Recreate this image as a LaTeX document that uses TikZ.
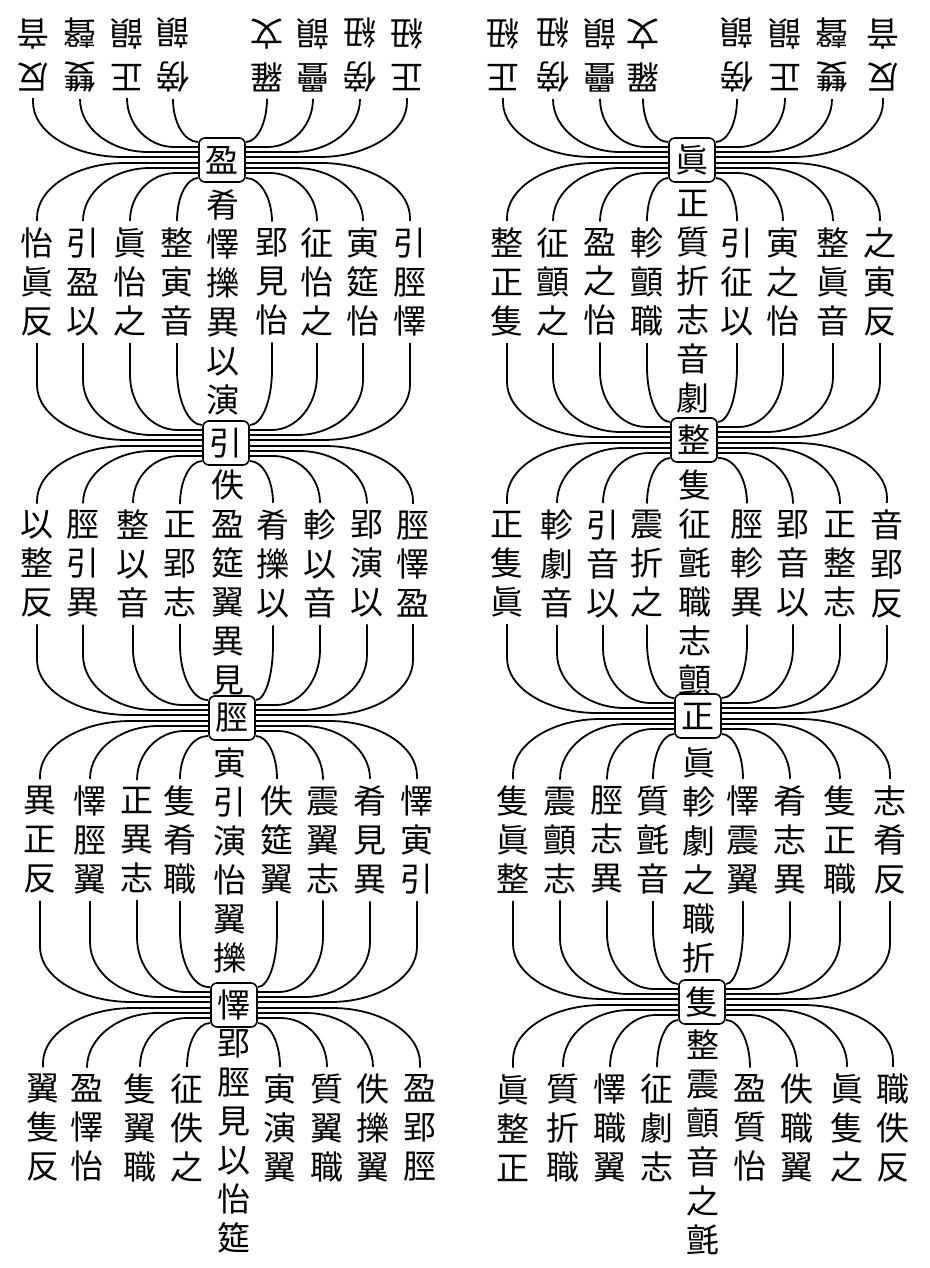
\documentclass[tikz,border=0pt]{standalone}
\usepackage{fontspec}
\newfontfamily\cjk{Noto Sans CJK JP}
\usetikzlibrary{calc}
\newcommand\colnode[4]{\node[col] (#1) at (#2,#3) {#4};
  \coordinate (#1-t) at (#1.north); \coordinate (#1-b) at (#1.south);}
\newcommand\labnode[4]{\node[lab] (#1) at (#2,#3) {#4};
  \coordinate (#1-b) at (#1.north);}
\begin{document}
\begin{tikzpicture}[x=0.5pt,y=-0.5pt,
  col/.style={font=\cjk\fontsize{16.5}{19.5}\selectfont, align=center, inner sep=3.3pt},
  lab/.style={font=\cjk\fontsize{16.5}{22}\selectfont, align=center, inner sep=3.3pt, rotate=180},
  hub/.style={draw, line width=0.8pt, rounded corners=3pt, minimum width=23pt,
    minimum height=22pt, inner sep=0pt, font=\cjk\fontsize{16.5}{19.5}\selectfont},
  conn/.style={line width=0.9pt},
  hubline/.style={to path={let \p1=(\tikztostart), \p2=(\tikztotarget),
    \n1={(\x2-\x1)/abs(\x2-\x1)*min(abs(\x2-\x1),0.45*abs(\x2-\x1)+7.5)},
    \n2={(\y2-\y1)/abs(\y2-\y1)*min(abs(\y2-\y1),27.5)} in
    -- (\x1,\y2-\n2) .. controls (\x1,\y2-0.45*\n2) and (\x1+0.45*\n1,\y2) .. (\x1+\n1,\y2)
    -- (\tikztotarget)}}
]
\useasboundingbox (0,0) rectangle (930,1268);
\fill[white] (0,0) rectangle (930,1268);

% ---------------- hubs ----------------
\node[hub] (LH1) at (222,160) {盈};
\node[hub] (LH2) at (226,443) {引};
\node[hub] (LH3) at (232,718) {脛};
\node[hub] (LH4) at (234,1005) {懌};
\node[hub] (RH1) at (692,160) {眞};
\node[hub] (RH2) at (694,440) {整};
\node[hub] (RH3) at (698,716) {正};
\node[hub] (RH4) at (702,1002) {隻};

% ---------------- central columns ----------------
\node[col] (LC1) at (223,302) {肴\\懌\\擽\\異\\以\\演};
\node[col] (RC1) at (693,302) {正\\質\\折\\志\\音\\劇};
\node[col] (LC2) at (228,582) {佚\\盈\\筵\\翼\\異\\見};
\node[col] (RC2) at (695,582) {隻\\征\\氈\\職\\志\\顫};
\node[col] (LC3) at (230,860) {寅\\引\\演\\怡\\翼\\擽};
\node[col] (RC3) at (699,860) {眞\\軫\\劇\\之\\職\\折};
\node[col] (LC4) at (234,1141) {郢\\脛\\見\\以\\怡\\筵};
\node[col] (RC4) at (703,1142) {整\\震\\顫\\音\\之\\氈};

% ---------------- top labels (inverted) ----------------
\labnode{L0-1}{33}{55}{反\\音}
\labnode{L0-2}{80}{55}{雙\\聲}
\labnode{L0-3}{127}{55}{正\\韻}
\labnode{L0-4}{173}{55}{傍\\韻}
\labnode{L0-5}{267}{55}{羅\\文}
\labnode{L0-6}{313}{55}{疊\\韻}
\labnode{L0-7}{360}{55}{傍\\紐}
\labnode{L0-8}{407}{55}{正\\紐}
\labnode{R0-1}{503}{55}{正\\紐}
\labnode{R0-2}{553}{55}{傍\\紐}
\labnode{R0-3}{600}{55}{疊\\韻}
\labnode{R0-4}{643}{55}{羅\\文}
\labnode{R0-5}{737}{55}{傍\\韻}
\labnode{R0-6}{785}{55}{正\\韻}
\labnode{R0-7}{832}{55}{雙\\聲}
\labnode{R0-8}{883}{55}{反\\音}

% ---------------- section 1 ----------------
\colnode{L1-1}{37}{282}{怡\\眞\\反}
\colnode{L1-2}{83}{282}{引\\盈\\以}
\colnode{L1-3}{130}{282}{眞\\怡\\之}
\colnode{L1-4}{177}{282}{整\\寅\\音}
\colnode{L1-5}{272}{282}{郢\\見\\怡}
\colnode{L1-6}{317}{282}{征\\怡\\之}
\colnode{L1-7}{363}{282}{寅\\筵\\怡}
\colnode{L1-8}{410}{282}{引\\脛\\懌}
\colnode{R1-1}{507}{282}{整\\正\\隻}
\colnode{R1-2}{553}{282}{征\\顫\\之}
\colnode{R1-3}{600}{282}{盈\\之\\怡}
\colnode{R1-4}{647}{282}{軫\\顫\\職}
\colnode{R1-5}{737}{282}{引\\征\\以}
\colnode{R1-6}{783}{282}{寅\\之\\怡}
\colnode{R1-7}{833}{282}{整\\眞\\音}
\colnode{R1-8}{880}{282}{之\\寅\\反}

% ---------------- section 2 ----------------
\colnode{L2-1}{37}{564}{以\\整\\反}
\colnode{L2-2}{83}{564}{脛\\引\\異}
\colnode{L2-3}{133}{564}{整\\以\\音}
\colnode{L2-4}{180}{564}{正\\郢\\志}
\colnode{L2-5}{273}{564}{肴\\擽\\以}
\colnode{L2-6}{320}{564}{軫\\以\\音}
\colnode{L2-7}{367}{564}{郢\\演\\以}
\colnode{L2-8}{413}{564}{脛\\懌\\盈}
\colnode{R2-1}{507}{564}{正\\隻\\眞}
\colnode{R2-2}{557}{564}{軫\\劇\\音}
\colnode{R2-3}{603}{564}{引\\音\\以}
\colnode{R2-4}{647}{564}{震\\折\\之}
\colnode{R2-5}{747}{564}{脛\\軫\\異}
\colnode{R2-6}{793}{564}{郢\\音\\以}
\colnode{R2-7}{840}{564}{正\\整\\志}
\colnode{R2-8}{887}{564}{音\\郢\\反}

% ---------------- section 3 ----------------
\colnode{L3-1}{40}{840}{異\\正\\反}
\colnode{L3-2}{90}{840}{懌\\脛\\翼}
\colnode{L3-3}{137}{840}{正\\異\\志}
\colnode{L3-4}{180}{840}{隻\\肴\\職}
\colnode{L3-5}{277}{840}{佚\\筵\\翼}
\colnode{L3-6}{323}{840}{震\\翼\\志}
\colnode{L3-7}{370}{840}{肴\\見\\異}
\colnode{L3-8}{417}{840}{懌\\寅\\引}
\colnode{R3-1}{513}{840}{隻\\眞\\整}
\colnode{R3-2}{560}{840}{震\\顫\\志}
\colnode{R3-3}{607}{840}{脛\\志\\異}
\colnode{R3-4}{653}{840}{質\\氈\\音}
\colnode{R3-5}{743}{840}{懌\\震\\翼}
\colnode{R3-6}{790}{840}{肴\\志\\異}
\colnode{R3-7}{840}{840}{隻\\正\\職}
\colnode{R3-8}{890}{840}{志\\肴\\反}

% ---------------- section 4 ----------------
\colnode{L4-1}{43}{1128}{翼\\隻\\反}
\colnode{L4-2}{87}{1128}{盈\\懌\\怡}
\colnode{L4-3}{140}{1128}{隻\\翼\\職}
\colnode{L4-4}{187}{1128}{征\\佚\\之}
\colnode{L4-5}{280}{1128}{寅\\演\\翼}
\colnode{L4-6}{327}{1128}{質\\翼\\職}
\colnode{L4-7}{373}{1128}{佚\\擽\\翼}
\colnode{L4-8}{420}{1128}{盈\\郢\\脛}
\colnode{R4-1}{513}{1128}{眞\\整\\正}
\colnode{R4-2}{563}{1128}{質\\折\\職}
\colnode{R4-3}{610}{1128}{懌\\職\\翼}
\colnode{R4-4}{657}{1128}{征\\劇\\志}
\colnode{R4-5}{750}{1128}{盈\\質\\怡}
\colnode{R4-6}{797}{1128}{佚\\職\\翼}
\colnode{R4-7}{847}{1128}{眞\\隻\\之}
\colnode{R4-8}{893}{1128}{職\\佚\\反}

% ---------------- connectors ----------------
\foreach \s in {L,R}{
  \foreach \k in {1,2,3,4}{
    \pgfmathtruncatemacro\p{\k-1}
    \foreach \j/\dd in {1/1.5,2/4,3/6.5,4/9}{
      \draw[conn] (\s\p-\j-b) to[hubline] ([yshift=\dd pt]\s H\k.west);
      \draw[conn] (\s\k-\j-t) to[hubline] ([yshift=-\dd pt]\s H\k.west);
    }
    \foreach \j/\dd in {8/1.5,7/4,6/6.5,5/9}{
      \draw[conn] (\s\p-\j-b) to[hubline] ([yshift=\dd pt]\s H\k.east);
      \draw[conn] (\s\k-\j-t) to[hubline] ([yshift=-\dd pt]\s H\k.east);
    }
  }
}
\end{tikzpicture}
\end{document}
